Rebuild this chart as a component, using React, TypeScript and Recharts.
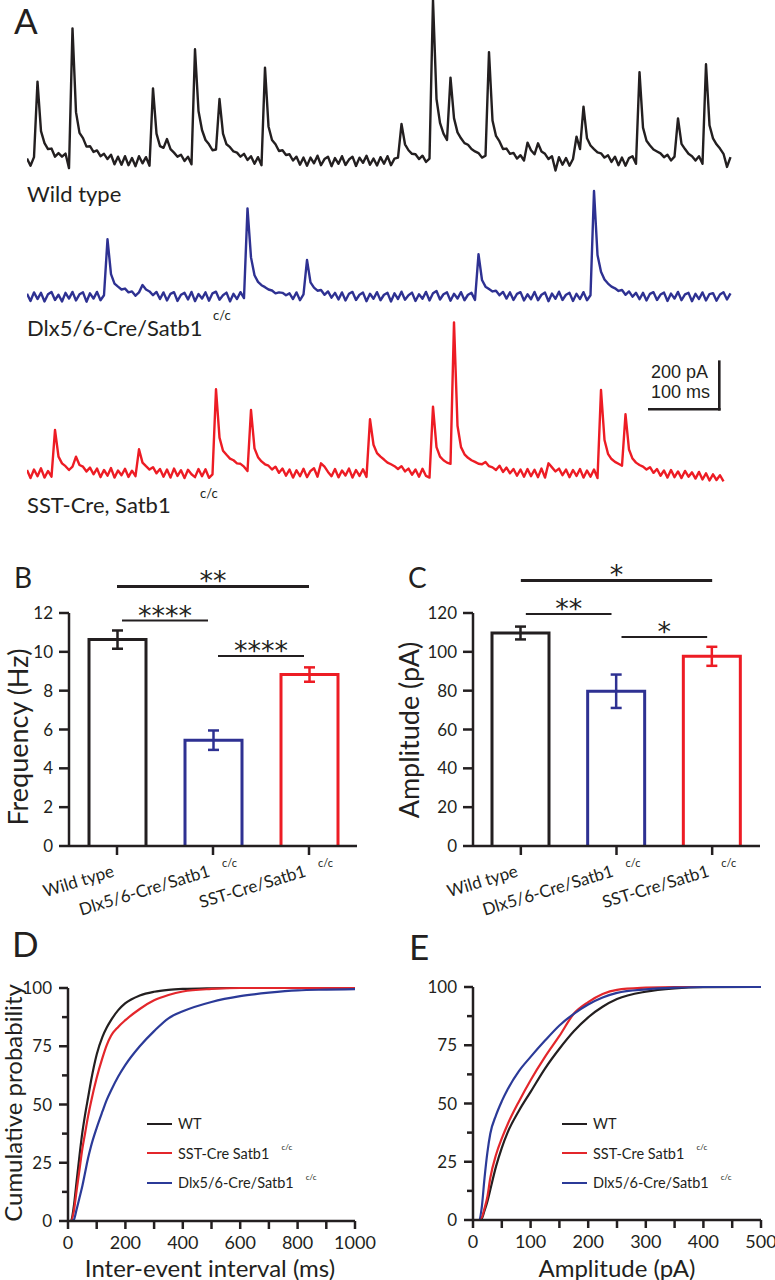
import React from "react";
import { LineChart, Line, BarChart, Bar, XAxis, YAxis, ReferenceLine, Legend } from "recharts";

const INK = "#231f20";
const BLUE = "#2e3192";
const RED = "#ed1c24";
const FONT = "Lato, 'Open Sans', sans-serif";

// ---- panel A: example sweeps, one sample every 5 ms, current in pA above baseline
const SAMPLE_MS = 5;
const wtTrace = [
  10, -20, 16, 333, 125, 75, 50, 52, 18, 33,
  18, 31, -30, 557, 205, 118, 96, 60, 62, 38,
  44, 20, 30, 8, 26, -14, 18, -16, 20, -18,
  12, -22, 20, -10, 16, -20, 305, 115, 62, 55,
  92, 50, 35, 18, 26, 0, 18, -14, 469, 210,
  130, 88, 70, 45, 48, 260, 115, 70, 58, 40,
  35, 18, 30, 4, 20, -12, 16, -18, 392, 145,
  88, 70, 42, 45, 25, 28, 2, 18, -16, 14,
  -20, 14, -10, 22, -18, 8, 18, -22, 12, -12,
  20, -17, 6, 18, -21, 14, -8, 22, -16, 10,
  -19, 16, -12, 20, -18, 10, 14, 155, 70, 45,
  30, 28, 8, 22, -4, 10, 676, 260, 160, 115,
  88, 350, 180, 120, 95, 75, 68, 50, 40, 33,
  14, 22, 457, 170, 105, 82, 50, 52, 30, 34,
  10, 24, 2, 77, 45, 28, 74, 40, 30, 8,
  20, -40, 16, -16, 12, -20, 8, 102, 50, 228,
  95, 65, 50, 36, 32, 14, 24, -4, 18, -18,
  14, -20, 12, 20, -12, 373, 140, 85, 65, 48,
  40, 32, 16, 26, 2, 18, 179, 72, 50, 30,
  20, 2, 20, -12, 406, 150, 95, 70, 52, 30,
  -25, 16,
];
const dlxTrace = [
  12, -18, 18, -10, 16, -20, 10, 20, -14, 8,
  -20, 16, -8, 20, -16, 10, 18, -21, 14, -8,
  20, -15, 6, 241, 95, 55, 42, 30, 34, 18,
  22, 4, 18, 49, 30, 22, 6, 20, -10, 18,
  -16, 12, 19, -18, 8, 16, -12, 20, -19, 11,
  -8, 18, -17, 14, 21, -13, 6, 17, -20, 12,
  -10, 19, -6, 371, 165, 90, 62, 48, 40, 30,
  26, 14, 18, 16, 6, 14, -10, 18, -15, 10,
  154, 60, 38, 25, 28, 8, 22, -4, 16, -12,
  18, -16, 12, 20, -14, 8, 17, -19, 12, -9,
  19, -15, 8, 16, -20, 14, -10, 21, -13, 6,
  17, -18, 10, -9, 20, -16, 14, 24, -12, 10,
  18, -17, 12, -8, 19, -15, 8, 16, -14, 178,
  70, 42, 32, 22, 25, 6, 20, -8, 18, -14,
  12, 19, -16, 10, -11, 20, -15, 8, 17, -19,
  13, -9, 21, -14, 8, 16, -18, 12, -10, 19,
  -15, 6, 444, 175, 105, 72, 55, 42, 35, 24,
  28, 8, 22, 0, 16, -11, 16, -16, 12, 19,
  -14, 9, 17, -18, 13, -8, 20, -15, 10, 16,
  -19, 12, -10, 18, -16, 11, 15, -17, 9, 19,
  -12, 14,
];
const sstTrace = [
  14, -20, 16, -12, 21, -18, 10, -14, 182, 70,
  42, 30, 14, 28, 70, 35, 28, 8, 24, -4,
  20, -16, 14, -10, 22, -18, 12, -8, 19, -15,
  11, -12, 101, 45, 30, 16, 26, 0, 18, -14,
  16, -18, 20, -11, 13, -20, 15, -4, -16, 18,
  -12, 17, -19, -4, 353, 150, 95, 78, 62, 55,
  42, 40, 28, 10, 266, 105, 68, 50, 38, 32,
  16, 28, 2, 20, -10, 16, -18, 13, -12, 19,
  -16, 10, 21, -14, 42, 28, 6, -12, 18, -17,
  12, -9, 20, -18, 14, -11, 17, -15, 227, 120,
  85, 70, 58, 45, 38, 30, 18, 30, 8, 20,
  -6, 16, -14, 19, -11, -18, 280, 110, 70, 55,
  45, 40, 634, 200, 110, 80, 65, 55, 48, 40,
  38, 48, 30, 25, 14, 32, 6, 24, 0, 18,
  -10, 16, -14, 18, -12, 15, -16, 20, -18, 42,
  25, 8, 20, -8, 16, -16, 14, -11, 18, -18,
  12, -14, 16, -20, 350, 140, 82, 60, 48, 40,
  32, 248, 100, 62, 45, 35, 28, 16, 26, 2,
  18, -10, 12, -18, 14, -16, 8, -20, 10, -14,
  4, -22, 6, -26, 0, -30, -4, -28, -8, -34,
];
const scaleBarMs = 100;
const scaleBarPa = 200;
const scaleBarEndMs = 989;
const scaleBarBasePa = 269;

// ---- panels B and C
const groups = ["Wild type", "Dlx5/6-Cre/Satb1", "SST-Cre/Satb1"];
const groupSup = ["", "c/c", "c/c"];
const groupColors = [INK, BLUE, RED];
const freqMean = [10.63, 5.45, 8.83];
const freqSem = [0.47, 0.5, 0.37];
const ampMean = [109.7, 79.7, 97.7];
const ampSem = [3.3, 8.6, 4.9];
const freqTicks = [0, 2, 4, 6, 8, 10, 12];
const ampTicks = [0, 20, 40, 60, 80, 100, 120];
const freqSig = [
  { from: 0, to: 2, y: 13.37, text: "**", heavy: true },
  { from: 0, to: 1, y: 11.61, text: "****", heavy: false },
  { from: 1, to: 2, y: 9.79, text: "****", heavy: false },
];
const ampSig = [
  { from: 0, to: 2, y: 136.8, text: "*", heavy: true },
  { from: 0, to: 1, y: 119.5, text: "**", heavy: false },
  { from: 1, to: 2, y: 107.7, text: "*", heavy: false },
];

// ---- panels D and E: cumulative distributions (%)
const cdfNames = ["WT", "SST-Cre Satb1", "Dlx5/6-Cre/Satb1"];
const cdfColors = [INK, "#e3262b", "#2b3a98"];
const cdfYTicks = [0, 12.5, 25, 37.5, 50, 62.5, 75, 87.5, 100];
const ieiMs = [0, 10, 20, 30, 40, 50, 60, 70, 80, 100, 120, 135, 150, 175, 200, 250, 300, 350, 400, 500, 600, 700, 800, 900, 1000];
const ieiWT = [0, 0, 6, 17, 28, 38, 46, 53, 60, 71.5, 79, 83, 86.2, 90.5, 93.5, 96.8, 98.4, 99.2, 99.6, 99.9, 100, 100, 100, 100, 100];
const ieiSST = [0, 0, 4, 13, 22, 31, 38, 45, 51, 61.5, 70, 75.5, 79.5, 83.3, 86.2, 91, 94.7, 97, 98.5, 99.6, 100, 100, 100, 100, 100];
const ieiDlx = [0, 0, 0.5, 5, 10, 15, 21, 27, 32, 40, 47, 52, 56, 62, 67, 75, 81.5, 87, 90, 94, 96.5, 98, 99, 99.3, 99.5];
const ieiTicks = [0, 100, 200, 300, 400, 500, 600, 700, 800, 900, 1000];
const ampPa = [0, 10, 15, 20, 25, 30, 40, 50, 60, 80, 100, 125, 150, 175, 200, 225, 250, 300, 350, 400, 500];
const ampWT = [0, 0, 0.5, 4, 8, 13, 23, 31, 37.5, 47, 55, 65, 73.5, 81, 87, 91.5, 94.8, 98, 99.4, 99.9, 100];
const ampSST = [0, 0, 1, 5, 10, 18, 28, 35, 41, 51, 60, 70, 79, 88.5, 93.5, 97, 98.8, 99.7, 100, 100, 100];
const ampDlx = [0, 0, 5, 18, 29, 37, 45, 51, 56, 64, 70, 77, 83.5, 88.5, 92.5, 95.5, 97.5, 99, 99.7, 100, 100];
const ampTicksE = [0, 50, 100, 150, 200, 250, 300, 350, 400, 450, 500];

const toRows = (trace: number[]) => trace.map((v, i) => ({ t: i * SAMPLE_MS, v }));
const barRows = (mean: number[], sem: number[]) =>
  groups.map((g, i) => ({ group: g, sup: groupSup[i], color: groupColors[i], mean: mean[i], sem: sem[i] }));
const cdfRows = (xs: number[], a: number[], b: number[], c: number[]) =>
  xs.map((x, i) => ({ x, wt: a[i], sst: b[i], dlx: c[i] }));

function Trace({ rows, color, width, height, domain, children }: any) {
  return (
    <LineChart width={width} height={height} data={rows} margin={{ top: 0, right: 0, bottom: 0, left: 0 }}>
      <XAxis dataKey="t" type="number" domain={[0, 1010]} hide allowDataOverflow />
      <YAxis type="number" domain={domain} hide allowDataOverflow />
      <Line dataKey="v" type="linear" stroke={color} strokeWidth={2.4} strokeLinejoin="round" dot={false} isAnimationActive={false} />
      {children}
    </LineChart>
  );
}

function HollowBar(props: any) {
  const { x, y, width, height, payload } = props;
  const k = height / payload.mean;
  const cx = x + width / 2;
  const hi = y - payload.sem * k;
  const lo = y + payload.sem * k;
  const c = payload.color;
  return (
    <g>
      <path d={`M${x},${y + height} L${x},${y} L${x + width},${y} L${x + width},${y + height}`} fill="#fff" stroke={c} strokeWidth={3} />
      <line x1={cx} x2={cx} y1={hi} y2={lo} stroke={c} strokeWidth={2.5} />
      <line x1={cx - 5.5} x2={cx + 5.5} y1={hi} y2={hi} stroke={c} strokeWidth={2.5} />
      <line x1={cx - 5.5} x2={cx + 5.5} y1={lo} y2={lo} stroke={c} strokeWidth={2.5} />
    </g>
  );
}

function GroupTick(props: any) {
  const { x, y, payload } = props;
  const sup = groupSup[groups.indexOf(payload.value)];
  const ax = x - 2;
  const ay = y + 21;
  return (
    <g>
      <text x={ax} y={ay} transform={`rotate(-17 ${ax} ${ay})`} textAnchor="end" fontSize={17} fontFamily={FONT} fill={INK}>
        {payload.value}
      </text>
      {sup && (
        <text x={x + 9} y={y + 12} fontSize={11} fontFamily={FONT} fill={INK}>
          {sup}
        </text>
      )}
    </g>
  );
}

const sigShape = (text: string, heavy: boolean) => (p: any) => {
  const inset = heavy ? 0 : 5;
  const x1 = p.x1 + inset;
  const x2 = p.x2 - inset;
  return (
    <g>
      <line x1={x1} x2={x2} y1={p.y1} y2={p.y2} stroke={INK} strokeWidth={heavy ? 3 : 2} />
      <text x={(x1 + x2) / 2} y={p.y1 + 4} textAnchor="middle" fontSize={27} fontFamily="'DejaVu Sans', sans-serif" fill={INK}>
        {text}
      </text>
    </g>
  );
};

function BarPanel({ rows, ticks, sig, width, margin }: any) {
  const axis = { stroke: INK, strokeWidth: 2.5 };
  return (
    <BarChart width={width} height={390} data={rows} margin={margin} barSize={57}>
      <XAxis dataKey="group" tickSize={9} tickMargin={0} height={50} axisLine={axis} tickLine={axis} tick={<GroupTick />} interval={0} />
      <YAxis type="number" domain={[ticks[0], ticks[ticks.length - 1]]} ticks={ticks} interval={0} width={60} tickSize={10} tickMargin={6}
        axisLine={axis} tickLine={axis} tick={{ fill: INK, fontSize: 17, fontFamily: FONT }} />
      <Bar dataKey="mean" shape={HollowBar} isAnimationActive={false} />
      {sig.map((s: any, i: number) => (
        <ReferenceLine key={i} ifOverflow="visible"
          segment={[{ x: groups[s.from], y: s.y }, { x: groups[s.to], y: s.y }]}
          shape={sigShape(s.text, s.heavy)} />
      ))}
    </BarChart>
  );
}

function CdfYTick(props: any) {
  const { x, y, payload } = props;
  const major = payload.value % 25 === 0;
  return (
    <g>
      <line x1={x} x2={x - (major ? 9 : 6)} y1={y} y2={y} stroke={INK} strokeWidth={2.5} />
      {major && (
        <text x={x - 16} y={y} dy="0.36em" textAnchor="end" fontSize={17} fontFamily={FONT} fill={INK}>
          {payload.value}
        </text>
      )}
    </g>
  );
}

function CdfLegend() {
  const sups = ["", "c/c", "c/c"];
  return (
    <div style={{ fontFamily: FONT, fontSize: 14.5, color: INK }}>
      {cdfNames.map((n, i) => (
        <div key={n} style={{ display: "flex", alignItems: "center", height: 29.6, whiteSpace: "nowrap" }}>
          <span style={{ width: 25, borderTop: `2.5px solid ${cdfColors[i]}`, marginRight: 6 }} />
          <span>{n}</span>
          {sups[i] && <span style={{ fontSize: 8, marginLeft: 12, position: "relative", top: -6 }}>{sups[i]}</span>}
        </div>
      ))}
    </div>
  );
}

function CdfPanel({ rows, xMax, xTicks, labelEvery, width, margin, legendLeft }: any) {
  const axis = { stroke: INK, strokeWidth: 2.5 };
  return (
    <LineChart width={width} height={320} data={rows} margin={margin}>
      <XAxis dataKey="x" type="number" domain={[0, xMax]} ticks={xTicks} interval={0} allowDataOverflow
        tickFormatter={(v: number) => (v % labelEvery === 0 ? String(v) : "")}
        tickSize={8} tickMargin={7} height={40} axisLine={axis} tickLine={axis}
        tick={{ fill: INK, fontSize: 18, fontFamily: FONT }} />
      <YAxis type="number" domain={[0, 100]} ticks={cdfYTicks} interval={0} width={60} tickSize={0} tickMargin={0}
        tickLine={false} axisLine={axis} tick={<CdfYTick />} />
      <Legend layout="vertical" align="center" verticalAlign="middle" content={<CdfLegend />}
        wrapperStyle={{ left: legendLeft, top: 149, width: 200 }} />
      <Line dataKey="wt" type="monotone" stroke={cdfColors[0]} strokeWidth={2.2} dot={false} isAnimationActive={false} />
      <Line dataKey="sst" type="monotone" stroke={cdfColors[1]} strokeWidth={2.2} dot={false} isAnimationActive={false} />
      <Line dataKey="dlx" type="monotone" stroke={cdfColors[2]} strokeWidth={2.2} dot={false} isAnimationActive={false} />
    </LineChart>
  );
}

const abs = (left: number, top: number): React.CSSProperties => ({ position: "absolute", left, top });

export default function App() {
  const scaleLine = { stroke: INK, strokeWidth: 2.6, strokeLinecap: "square" as const };
  return (
    <div style={{ position: "absolute", left: 0, top: 0, width: 775, height: 1280, background: "#fff", overflow: "hidden" }}>
      <div style={abs(27, 0)}>
        <Trace rows={toRows(wtTrace)} color={INK} width={707} height={180} domain={[-80, 676]} />
      </div>
      <div style={abs(27, 180)}>
        <Trace rows={toRows(dlxTrace)} color={BLUE} width={707} height={140} domain={[-98, 490]} />
      </div>
      <div style={abs(27, 300)}>
        <Trace rows={toRows(sstTrace)} color={RED} width={707} height={200} domain={[-112, 728]}>
          <ReferenceLine ifOverflow="visible" {...scaleLine}
            segment={[{ x: scaleBarEndMs - scaleBarMs, y: scaleBarBasePa }, { x: scaleBarEndMs, y: scaleBarBasePa }]} />
          <ReferenceLine ifOverflow="visible" {...scaleLine}
            segment={[{ x: scaleBarEndMs, y: scaleBarBasePa }, { x: scaleBarEndMs, y: scaleBarBasePa + scaleBarPa }]} />
        </Trace>
      </div>

      <div style={abs(0, 550)}>
        <BarPanel rows={barRows(freqMean, freqSem)} ticks={freqTicks} sig={freqSig} width={385}
          margin={{ top: 63, right: 28, bottom: 44, left: 9 }} />
      </div>
      <div style={abs(400, 550)}>
        <BarPanel rows={barRows(ampMean, ampSem)} ticks={ampTicks} sig={ampSig} width={375}
          margin={{ top: 63, right: 15, bottom: 44, left: 13 }} />
      </div>

      <div style={abs(0, 960)}>
        <CdfPanel rows={cdfRows(ieiMs, ieiWT, ieiSST, ieiDlx)} xMax={1000} xTicks={ieiTicks} labelEvery={200} width={385}
          margin={{ top: 28, right: 30, bottom: 19, left: 8 }} legendLeft={147} />
      </div>
      <div style={abs(400, 960)}>
        <CdfPanel rows={cdfRows(ampPa, ampWT, ampSST, ampDlx)} xMax={500} xTicks={ampTicksE} labelEvery={100} width={375}
          margin={{ top: 27, right: 14, bottom: 20, left: 13 }} legendLeft={162} />
      </div>

      <svg width={775} height={1280} style={{ position: "absolute", left: 0, top: 0, pointerEvents: "none" }}
        fontFamily={FONT} fill={INK}>
        <text x={14} y={34} fontSize={35}>A</text>
        <text x={14} y={588} fontSize={28}>B</text>
        <text x={408} y={588} fontSize={28}>C</text>
        <text x={12} y={957} fontSize={35}>D</text>
        <text x={409} y={960} fontSize={35}>E</text>

        <text x={27} y={201.5} fontSize={22}>Wild type</text>
        <text x={27} y={336} fontSize={22}>Dlx5/6-Cre/Satb1</text>
        <text x={213} y={320} fontSize={13}>c/c</text>
        <text x={27} y={513} fontSize={22}>SST-Cre, Satb1</text>
        <text x={200} y={498} fontSize={13}>c/c</text>
        <text x={651} y={378} fontSize={18} fontFamily="'Liberation Sans', Arial, sans-serif">200 pA</text>
        <text x={651} y={398} fontSize={18} fontFamily="'Liberation Sans', Arial, sans-serif">100 ms</text>

        <text x={17} y={737} fontSize={27} textAnchor="middle" dominantBaseline="central" transform="rotate(-90 17 737)">Frequency (Hz)</text>
        <text x={408} y={730} fontSize={27} textAnchor="middle" dominantBaseline="central" transform="rotate(-90 408 730)">Amplitude (pA)</text>
        <text x={12} y={1103} fontSize={24} textAnchor="middle" dominantBaseline="central" transform="rotate(-90 12 1103)">Cumulative probability</text>
        <text x={210} y={1267} fontSize={24} textAnchor="middle" dominantBaseline="central">Inter-event interval (ms)</text>
        <text x={617} y={1267} fontSize={24} textAnchor="middle" dominantBaseline="central">Amplitude (pA)</text>
      </svg>
    </div>
  );
}
